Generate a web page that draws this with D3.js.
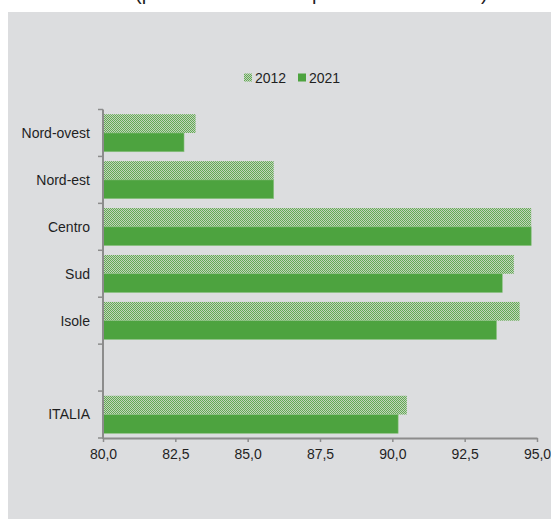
<!DOCTYPE html>
<html>
<head>
<meta charset="utf-8">
<script src="https://cdn.jsdelivr.net/npm/d3@7"></script>
<style>
    html, body { margin: 0; padding: 0; background: #fff; }
    svg { display: block; font-family: "Liberation Sans", Arial, sans-serif; }
</style>
</head>
<body>
<svg id="chart" width="551" height="519"></svg>
<script>
// data
var categories = ['Nord-ovest', 'Nord-est', 'Centro', 'Sud', 'Isole', '', 'ITALIA'];
var years = ['2012', '2021'];
var values2012 = [83.2, 85.9, 94.8, 94.2, 94.4, null, 90.5];
var values2021 = [82.8, 85.9, 94.8, 93.8, 93.6, null, 90.2];
var xTicks = [80, 82.5, 85, 87.5, 90, 92.5, 95];

var width = 551, height = 519;
var svg = d3.select('#chart');

var green = '#4da33f';
var axisColor = '#8c8c8c';
var textColor = '#1f1f1f';

// checker pattern for 2012
var defs = svg.append('defs');
var pat = defs.append('pattern')
    .attr('id', 'checker')
    .attr('patternUnits', 'userSpaceOnUse')
    .attr('width', 2)
    .attr('height', 2);
pat.append('rect').attr('width', 2).attr('height', 2).attr('fill', '#c3d3bd');
pat.append('rect').attr('x', 0).attr('y', 0).attr('width', 1).attr('height', 1).attr('fill', '#62ab54');
pat.append('rect').attr('x', 1).attr('y', 1).attr('width', 1).attr('height', 1).attr('fill', '#62ab54');

// cut title (only descenders visible above the panel)
var title = svg.append('g')
    .attr('font-size', 20)
    .attr('fill', textColor);
title.append('text').attr('x', 135).attr('y', 0).text('(percentuale sul');
title.append('text').attr('x', 312).attr('y', 0).text('per area territoriale)');

// panel
svg.append('rect')
    .attr('x', 8).attr('y', 12)
    .attr('width', width - 8).attr('height', height - 12)
    .attr('fill', '#dcdddf');

var x = d3.scaleLinear().domain([80, 95]).range([103, 537]);
var y = d3.scaleBand().domain(categories).range([109.5, 438]).padding(0);
var bw = y.bandwidth();

var rows = categories.map(function (c, i) {
    return {cat: c, v2012: values2012[i], v2021: values2021[i]};
}).filter(function (d) { return d.v2012 !== null; });

var bars = svg.append('g');

bars.selectAll('rect.b2012')
    .data(rows)
    .enter().append('rect')
    .attr('class', 'b2012')
    .attr('x', x(80))
    .attr('y', function (d) { return y(d.cat) + bw * 0.1; })
    .attr('width', function (d) { return x(d.v2012) - x(80); })
    .attr('height', bw * 0.4)
    .attr('fill', 'url(#checker)');

bars.selectAll('rect.b2021')
    .data(rows)
    .enter().append('rect')
    .attr('class', 'b2021')
    .attr('x', x(80))
    .attr('y', function (d) { return y(d.cat) + bw * 0.5; })
    .attr('width', function (d) { return x(d.v2021) - x(80); })
    .attr('height', bw * 0.4)
    .attr('fill', green)
    .attr('stroke', '#8cc182')
    .attr('stroke-width', 0.6);

// x axis
var fmt = function (d) { return d3.format('.1f')(d).replace('.', ','); };
var xAxis = svg.append('g')
    .attr('transform', 'translate(0,438)')
    .call(d3.axisBottom(x).tickValues(xTicks).tickFormat(fmt).tickSize(4).tickPadding(7).tickSizeOuter(0));
xAxis.select('.domain').attr('stroke', axisColor).attr('stroke-width', 2);
xAxis.selectAll('.tick line').attr('stroke', axisColor).attr('stroke-width', 1.5);
xAxis.selectAll('.tick text')
    .attr('fill', textColor)
    .attr('font-size', 14)
    .attr('font-family', '"Liberation Sans", Arial, sans-serif');

// y axis: line + boundary ticks + labels
var yAxis = svg.append('g');
yAxis.append('line')
    .attr('x1', 103).attr('x2', 103)
    .attr('y1', 109.5).attr('y2', 439)
    .attr('stroke', axisColor).attr('stroke-width', 2);

var bounds = categories.map(function (c) { return y(c); }).concat([y.range()[1]]);
yAxis.selectAll('line.tk')
    .data(bounds)
    .enter().append('line')
    .attr('class', 'tk')
    .attr('x1', 98).attr('x2', 103)
    .attr('y1', function (d) { return d; })
    .attr('y2', function (d) { return d; })
    .attr('stroke', axisColor).attr('stroke-width', 1.5);

yAxis.selectAll('text')
    .data(categories)
    .enter().append('text')
    .attr('x', 90)
    .attr('y', function (d) { return y(d) + bw / 2; })
    .attr('dy', '0.35em')
    .attr('text-anchor', 'end')
    .attr('font-size', 14)
    .attr('fill', textColor)
    .text(function (d) { return d; });

// legend
var legend = svg.append('g');
var legendX = [244, 298];
years.forEach(function (yr, i) {
    legend.append('rect')
        .attr('x', legendX[i]).attr('y', 73.5)
        .attr('width', 8).attr('height', 8)
        .attr('fill', i === 0 ? 'url(#checker)' : green);
    legend.append('text')
        .attr('x', legendX[i] + 11).attr('y', 82.5)
        .attr('font-size', 14)
        .attr('fill', textColor)
        .text(yr);
});
</script>
</body>
</html>
